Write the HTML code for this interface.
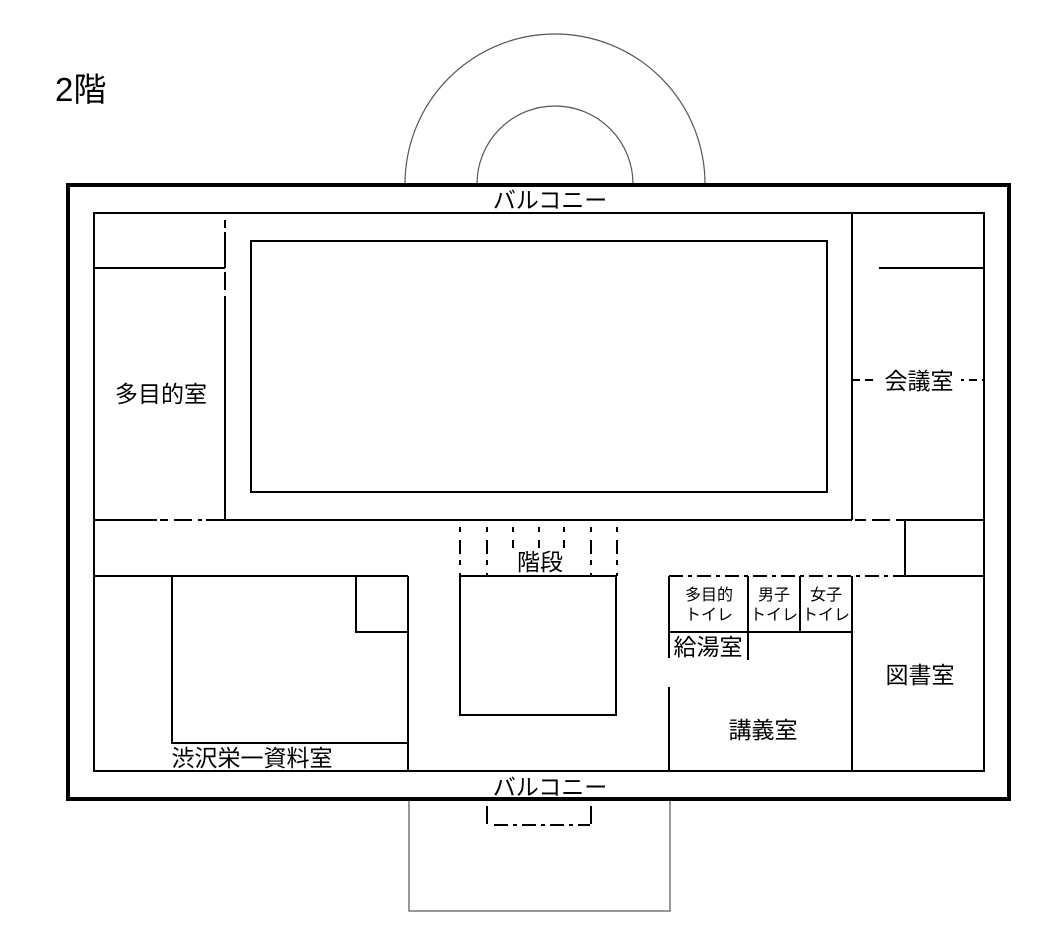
<!DOCTYPE html>
<html><head><meta charset="utf-8"><style>
body{margin:0;background:#fff}
svg text{font-family:"Liberation Sans","Noto Sans CJK JP",sans-serif;fill:#000}
</style></head><body>
<svg width="1061" height="937" viewBox="0 0 1061 937" xmlns="http://www.w3.org/2000/svg">
<text x="55" y="101" font-size="33">2階</text>
<g fill="none" stroke="#555" stroke-width="1.2">
<path d="M405 184 A150 150 0 0 1 705 184"/>
<path d="M477 184 A78 78 0 0 1 633 184"/>
<rect x="409" y="800" width="261" height="111"/>
</g>
<rect x="68" y="185" width="941" height="614" fill="none" stroke="#000" stroke-width="4"/>
<g fill="none" stroke="#000" stroke-width="2">
<rect x="94" y="213" width="890" height="558"/>
<rect x="251" y="241" width="576" height="251"/>
<path d="M225 296V520H852M852 213V520M852 576V771M94 268H225"/>
<path d="M225 220V228M225 232V268M225 272V290"/>
<path d="M879 268H984"/>
<path d="M852 380H984" stroke-dasharray="8 5"/>
<path d="M94 520H157M160 520H168M174 520H192M198 520H202M206 520H225"/>
<path d="M855 520H866M872 520H890M896 520H905M905 520V576H984M905 520H984"/>
<path d="M94 576H408M408 576V771M172 576V743H408M356 576V632H408"/>
<rect x="460" y="576" width="156" height="139"/>
<path d="M669 576V658M669 687V771M748 576V660M800 576V632M669 632H852"/>
<path d="M669 576H905" stroke-dasharray="14 5 4 5"/>
<path d="M487 806V824M591 806V824"/>
<path d="M494 825H590" stroke-dasharray="14 5 4 5"/>
</g>
<g stroke="#000" stroke-width="2" stroke-dasharray="5 8 14 6">
<path d="M460 527V576M487 527V576M513 527V548M539 527V548M564 527V548M591 527V576M617 527V576"/>
</g>
<g font-size="23" text-anchor="middle">
<rect x="487" y="188" width="126" height="24" fill="#fff"/>
<text x="550" y="208">バルコニー</text>
<rect x="487" y="774" width="126" height="22" fill="#fff"/>
<text x="550" y="795">バルコニー</text>
<text x="161" y="402">多目的室</text>
<rect x="875" y="366" width="86" height="26" fill="#fff"/>
<text x="919" y="389">会議室</text>
<rect x="512" y="548" width="56" height="26" fill="#fff"/>
<text x="540" y="570">階段</text>
<rect x="160" y="745" width="184" height="24" fill="#fff"/>
<text x="252" y="766">渋沢栄一資料室</text>
<text x="708" y="655">給湯室</text>
<text x="763" y="738">講義室</text>
<text x="920" y="683">図書室</text>
</g>
<g font-size="16" text-anchor="middle">
<text x="709" y="600">多目的</text><text x="709" y="620">トイレ</text>
<text x="774" y="600">男子</text><text x="774" y="620">トイレ</text>
<text x="826" y="600">女子</text><text x="826" y="620">トイレ</text>
</g>
</svg>
</body></html>
